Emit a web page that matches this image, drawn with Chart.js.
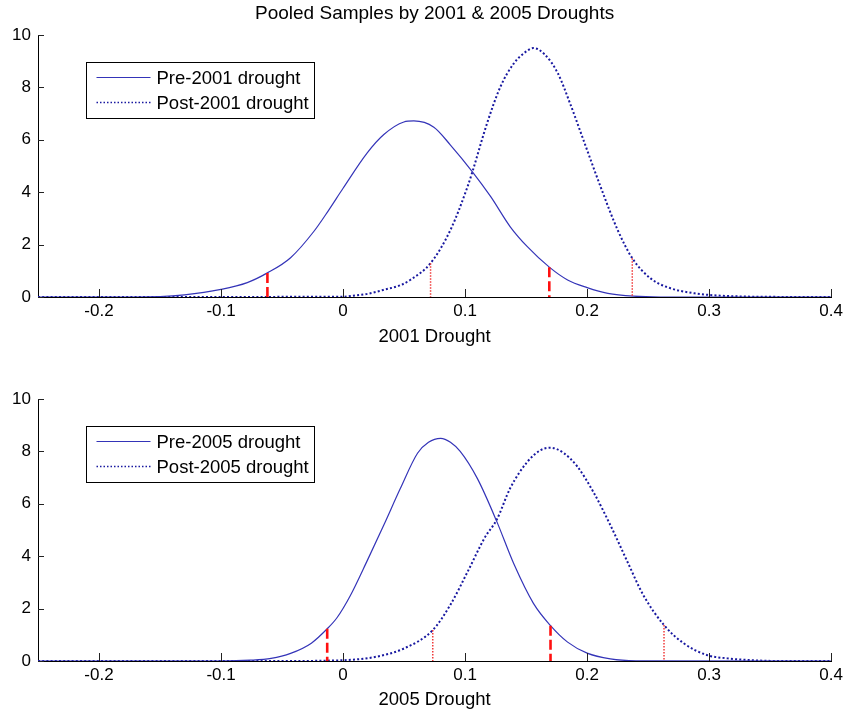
<!DOCTYPE html>
<html><head><meta charset="utf-8">
<script src="https://cdn.jsdelivr.net/npm/chart.js@4.4.1/dist/chart.umd.min.js"></script>
<style>
html,body{margin:0;padding:0;background:#fff;width:847px;height:715px;overflow:hidden}
canvas{position:absolute;left:0}
#c1{top:0}
#c2{top:362px}
</style></head><body>
<canvas id="c1" width="847" height="362"></canvas>
<canvas id="c2" width="847" height="353"></canvas>
<script>
// ---------- data ----------
const titleText = 'Pooled Samples by 2001 & 2005 Droughts';
const xTicks = [-0.2, -0.1, 0, 0.1, 0.2, 0.3, 0.4];
const yTicks = [0, 2, 4, 6, 8, 10];

const pre2001X  = [-0.25,-0.2,-0.15,-0.13,-0.1,-0.0785,-0.062,-0.043,-0.024,-0.012,0,0.0198,0.0334,0.0498,0.058,0.0744,0.088,0.106,0.121,0.137,0.151,0.169,0.184,0.2,0.217,0.238,0.26,0.4];
const pre2001Y  = [0,0,0.02,0.08,0.29,0.55,0.92,1.5,2.5,3.3,4.15,5.5,6.2,6.68,6.72,6.48,5.8,4.78,3.83,2.68,1.92,1.14,0.65,0.36,0.14,0.03,0,0];
const post2001X = [-0.25,0,0.006,0.02,0.033,0.047,0.055,0.0717,0.088,0.102,0.106,0.118,0.129,0.14,0.151,0.156,0.165,0.176,0.186,0.197,0.211,0.225,0.237,0.252,0.266,0.288,0.31,0.34,0.4];
const post2001Y = [0,0.01,0.04,0.12,0.27,0.45,0.65,1.29,2.56,4.21,4.78,6.63,8.03,8.92,9.4,9.5,9.27,8.54,7.39,5.99,4.21,2.56,1.48,0.71,0.37,0.14,0.05,0.01,0];

const pre2005X  = [-0.25,-0.1,-0.076,-0.059,-0.043,-0.026,-0.013,-0.005,0.006,0.02,0.0334,0.047,0.061,0.07,0.08,0.088,0.096,0.11,0.126,0.14,0.156,0.17,0.184,0.2,0.219,0.24,0.4];
const pre2005Y  = [0,0,0.03,0.1,0.29,0.68,1.23,1.65,2.5,3.85,5.19,6.59,7.93,8.35,8.5,8.35,8.0,6.97,5.32,3.7,2.2,1.35,0.72,0.3,0.08,0.01,0];
const post2005X = [-0.25,-0.05,0,0.028,0.05,0.0735,0.088,0.102,0.116,0.126,0.137,0.151,0.162,0.17,0.181,0.192,0.205,0.219,0.233,0.246,0.263,0.279,0.298,0.315,0.34,0.36,0.4];
const post2005Y = [0,0,0.03,0.17,0.48,1.18,2.15,3.4,4.7,5.4,6.6,7.6,8.05,8.14,7.93,7.42,6.46,5.19,3.79,2.52,1.37,0.68,0.23,0.1,0.02,0,0];

// red quantile markers: positions and heights
const q2001PreX  = [-0.062, 0.169];  const q2001PreH  = [0.92, 1.14];
const q2001PostX = [0.0717, 0.237];  const q2001PostH = [1.29, 1.48];
const q2005PreX  = [-0.013, 0.170];  const q2005PreH  = [1.23, 1.35];
const q2005PostX = [0.0735, 0.263];  const q2005PostH = [1.18, 1.37];

// ---------- styles ----------
const FONT = '"Liberation Sans", Arial, sans-serif';
const solidColor = '#3434b8';
const dotColor = '#1818a0';
const redColor = '#ff1010';

const pts = (xs, ys) => xs.map((x, i) => ({x, y: ys[i]}));

function curve(label, xs, ys, dotted) {
  return {
    label, data: pts(xs, ys), order: 1,
    borderColor: dotted ? dotColor : solidColor,
    borderWidth: dotted ? 2 : 1.2,
    borderDash: dotted ? [2, 2.2] : [],
    pointRadius: 0, cubicInterpolationMode: 'monotone', fill: false,
    _dotted: dotted
  };
}
function marks(xs, hs, dotted) {
  return xs.map((x, i) => ({
    label: 'q', data: [{x, y: hs[i]}, {x, y: 0}], order: 0,
    borderColor: dotted ? '#f03a3a' : redColor,
    borderWidth: dotted ? 1.5 : 2.6,
    borderDash: dotted ? [1.5, 1.5] : [10, 4],
    pointRadius: 0, fill: false, _marker: true
  }));
}

const inwardTicks = {
  id: 'inwardTicks',
  afterDraw(chart) {
    const {ctx, chartArea: a, scales: {x, y}} = chart;
    ctx.save();
    ctx.strokeStyle = '#222'; ctx.lineWidth = 1;
    ctx.beginPath();
    x.ticks.forEach(t => {
      const px = Math.round(x.getPixelForValue(t.value)) + 0.5;
      ctx.moveTo(px, a.bottom); ctx.lineTo(px, a.bottom - 8);
    });
    y.ticks.forEach(t => {
      const py = Math.round(y.getPixelForValue(t.value)) + 0.5;
      ctx.moveTo(a.left, py); ctx.lineTo(a.left + 6, py);
    });
    ctx.stroke();
    ctx.restore();
  }
};

const boxLegend = {
  id: 'boxLegend',
  afterDraw(chart) {
    const {ctx, chartArea: a} = chart;
    const sets = chart.data.datasets.filter(d => !d._marker);
    const L = Math.round(a.left + 48) + 0.5, T = Math.round(a.top + 27) + 0.5, W = 228, H = 56;
    ctx.save();
    ctx.fillStyle = '#fff';
    ctx.fillRect(L, T, W, H);
    ctx.strokeStyle = '#000'; ctx.lineWidth = 1;
    ctx.strokeRect(L, T, W, H);
    sets.forEach((d, i) => {
      const yy = T + 15 + i * 25;
      ctx.beginPath();
      ctx.strokeStyle = d.borderColor;
      ctx.lineWidth = d._dotted ? 1.6 : 1.2;
      ctx.setLineDash(d._dotted ? [1.5, 2] : []);
      ctx.moveTo(L + 10, yy); ctx.lineTo(L + 64, yy);
      ctx.stroke();
      ctx.setLineDash([]);
      ctx.fillStyle = '#000';
      ctx.font = '18.5px ' + FONT;
      ctx.textBaseline = 'middle';
      ctx.textAlign = 'left';
      ctx.fillText(d.label, L + 70, yy + 1);
    });
    ctx.restore();
  }
};

function makeChart(id, curves, markers, xTitle, opts) {
  return new Chart(document.getElementById(id), {
    type: 'line',
    data: {datasets: [...markers, ...curves]},
    plugins: [inwardTicks, boxLegend],
    options: {
      responsive: false, animation: false, devicePixelRatio: 1,
      layout: {padding: {left: 0, right: 15, top: opts.padTop, bottom: opts.padBottom}},
      plugins: {
        legend: {display: false},
        tooltip: {enabled: false},
        title: opts.title ? {
          display: true, text: opts.title, fullSize: false, color: '#000',
          font: {family: FONT, size: 19, weight: 'normal'},
          padding: {top: 2, bottom: 10.2}
        } : {display: false}
      },
      scales: {
        x: {
          type: 'linear', min: -0.25, max: 0.4,
          afterBuildTicks: s => { s.ticks = xTicks.map(v => ({value: v})); },
          afterFit: s => { s.height = opts.xHeight; },
          grid: {display: false, drawTicks: false},
          border: {display: true, color: '#000', width: 1},
          ticks: {
            padding: 4, color: '#000', maxRotation: 0, autoSkip: false,
            font: {family: FONT, size: 17},
            callback: v => String(Math.round(v * 10) / 10)
          },
          title: {
            display: true, text: xTitle, color: '#000',
            font: {family: FONT, size: 18.5},
            padding: {top: 0, bottom: opts.titlePad}
          }
        },
        y: {
          type: 'linear', min: 0, max: 10,
          afterBuildTicks: s => { s.ticks = yTicks.map(v => ({value: v})); },
          afterFit: s => { s.width = 38; },
          grid: {display: false, drawTicks: false},
          border: {display: true, color: '#000', width: 1},
          ticks: {padding: 7, color: '#000', font: {family: FONT, size: 17}}
        }
      }
    }
  });
}

makeChart('c1',
  [curve('Pre-2001 drought', pre2001X, pre2001Y, false), curve('Post-2001 drought', post2001X, post2001Y, true)],
  [...marks(q2001PreX, q2001PreH, false), ...marks(q2001PostX, q2001PostH, true)],
  '2001 Drought',
  {title: titleText, padTop: 0, padBottom: 5, xHeight: 60, titlePad: 9.2});

makeChart('c2',
  [curve('Pre-2005 drought', pre2005X, pre2005Y, false), curve('Post-2005 drought', post2005X, post2005Y, true)],
  [...marks(q2005PreX, q2005PreH, false), ...marks(q2005PostX, q2005PostH, true)],
  '2005 Drought',
  {title: null, padTop: 37, padBottom: 0, xHeight: 54, titlePad: 4.2});
</script>
</body></html>
